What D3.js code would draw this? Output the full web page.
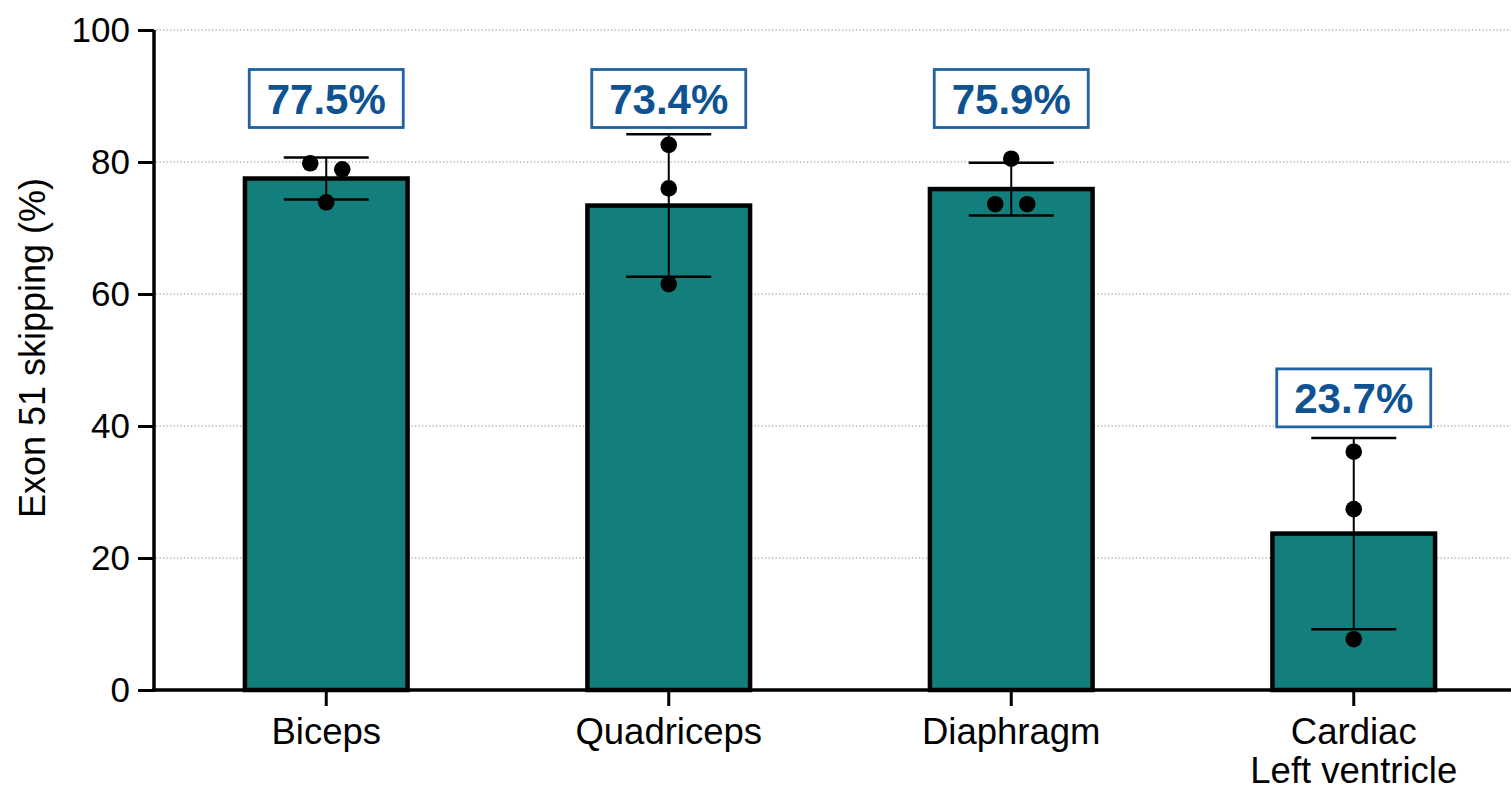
<!DOCTYPE html>
<html>
<head>
<meta charset="utf-8">
<script src="https://cdn.jsdelivr.net/npm/d3@7"></script>
<style>
    html, body { margin: 0; padding: 0; background: #fff; }
    svg { display: block; font-family: "Liberation Sans", Arial, sans-serif; }
</style>
</head>
<body>
<svg id="chart" width="1511" height="793"></svg>
<script>
    // data
    var tissues = ["Biceps", "Quadriceps", "Diaphragm", "Cardiac\nLeft ventricle"];
    var means = [77.5, 73.4, 75.9, 23.7];
    var sds = [3.2, 10.8, 4.0, 14.5];
    var points = [
        [79.8, 78.9, 73.9],
        [82.6, 76.0, 61.5],
        [80.5, 73.6, 73.6],
        [36.1, 27.4, 7.7]
    ];
    var yTicks = [0, 20, 40, 60, 80, 100];
    var yTitle = "Exon 51 skipping (%)";

    var barFill = "#127f7d";
    var labelBlue = "#0e5291";
    var boxBlue = "#2362a1";
    var dotR = 8.3;

    var svg = d3.select("#chart");
    var width = 1511, height = 793;

    var x = d3.scaleBand().domain(tissues).range([155, 1525]).paddingInner(0.512).paddingOuter(0.256);
    var y = d3.scaleLinear().domain([0, 100]).range([690, 30]);

    // gridlines
    svg.append("g").selectAll("line").data(yTicks.filter(function(d) { return d > 0; }))
        .enter().append("line")
        .attr("x1", 156).attr("x2", width)
        .attr("y1", function(d) { return y(d); })
        .attr("y2", function(d) { return y(d); })
        .attr("stroke", "#8c8c8c")
        .attr("stroke-width", 1.2)
        .attr("stroke-dasharray", "1.3,2.2");

    // bars
    var bw = 4.5;
    svg.append("g").selectAll("rect").data(tissues)
        .enter().append("rect")
        .attr("x", function(d) { return x(d) + bw / 2; })
        .attr("width", x.bandwidth() - bw)
        .attr("y", function(d, i) { return y(means[i]); })
        .attr("height", function(d, i) { return y(0) - y(means[i]); })
        .attr("fill", barFill)
        .attr("stroke", "#000")
        .attr("stroke-width", bw);

    // error bars (mean +/- SD)
    var err = svg.append("g").attr("stroke", "#000");
    tissues.forEach(function(t, i) {
        var cx = x(t) + x.bandwidth() / 2;
        var hi = y(means[i] + sds[i]), lo = y(means[i] - sds[i]);
        err.append("line").attr("x1", cx).attr("x2", cx).attr("y1", hi).attr("y2", lo).attr("stroke-width", 2);
        [hi, lo].forEach(function(v) {
            err.append("line").attr("x1", cx - 42.5).attr("x2", cx + 42.5)
                .attr("y1", v).attr("y2", v).attr("stroke-width", 2.5);
        });
    });

    // individual points, spread sideways when they would overlap
    var dots = svg.append("g");
    tissues.forEach(function(t, i) {
        var cx = x(t) + x.bandwidth() / 2;
        var sorted = points[i].slice().sort(function(a, b) { return b - a; });
        var clusters = [];
        sorted.forEach(function(v) {
            var last = clusters[clusters.length - 1];
            if (last && y(v) - y(last[last.length - 1]) < dotR * 2) last.push(v);
            else clusters.push([v]);
        });
        clusters.forEach(function(c) {
            c.forEach(function(v, k) {
                dots.append("circle")
                    .attr("cx", cx + (k - (c.length - 1) / 2) * 32)
                    .attr("cy", y(v))
                    .attr("r", dotR)
                    .attr("fill", "#000");
            });
        });
    });

    // value labels in boxes
    var labels = svg.append("g");
    tissues.forEach(function(t, i) {
        var cx = x(t) + x.bandwidth() / 2;
        var top = means[i] + sds[i];
        var cy = top > 60 ? 98.5 : y(top) - 40;
        labels.append("rect")
            .attr("x", cx - 77).attr("y", cy - 29)
            .attr("width", 154).attr("height", 58)
            .attr("fill", "#fff")
            .attr("stroke", boxBlue)
            .attr("stroke-width", 2.8);
        labels.append("text")
            .attr("x", cx).attr("y", cy + 15)
            .attr("text-anchor", "middle")
            .attr("font-size", "42px")
            .attr("font-weight", "bold")
            .attr("fill", labelBlue)
            .text(means[i].toFixed(1) + "%");
    });

    // y axis
    var yAxis = svg.append("g").attr("transform", "translate(154,0)")
        .call(d3.axisLeft(y).tickValues(yTicks).tickSize(16).tickPadding(8));
    yAxis.select(".domain").attr("d", "M0," + y(100) + "V" + (y(0) + 1.75)).attr("stroke-width", 3.5);
    yAxis.selectAll(".tick line").attr("stroke-width", 3);
    yAxis.selectAll(".tick text").attr("font-size", "35px").attr("fill", "#000")
        .attr("font-family", "Liberation Sans, Arial, sans-serif");

    // x axis
    var xAxis = svg.append("g").attr("transform", "translate(0,690)")
        .call(d3.axisBottom(x).tickSize(16).tickFormat(""));
    xAxis.select(".domain").attr("d", "M152.25,0H" + width).attr("stroke-width", 3.5);
    xAxis.selectAll(".tick line").attr("stroke-width", 3);
    xAxis.selectAll(".tick").each(function(d) {
        var lines = d.split("\n");
        var txt = d3.select(this).append("text")
            .attr("fill", "#000")
            .attr("text-anchor", "middle")
            .attr("font-size", "36.5px")
            .attr("font-family", "Liberation Sans, Arial, sans-serif");
        lines.forEach(function(l, k) {
            txt.append("tspan").attr("x", 0).attr("y", 54 + k * 39).text(l);
        });
    });

    // y title
    svg.append("text")
        .attr("transform", "translate(45,348) rotate(-90)")
        .attr("text-anchor", "middle")
        .attr("font-size", "36px")
        .attr("fill", "#000")
        .text(yTitle);
</script>
</body>
</html>
